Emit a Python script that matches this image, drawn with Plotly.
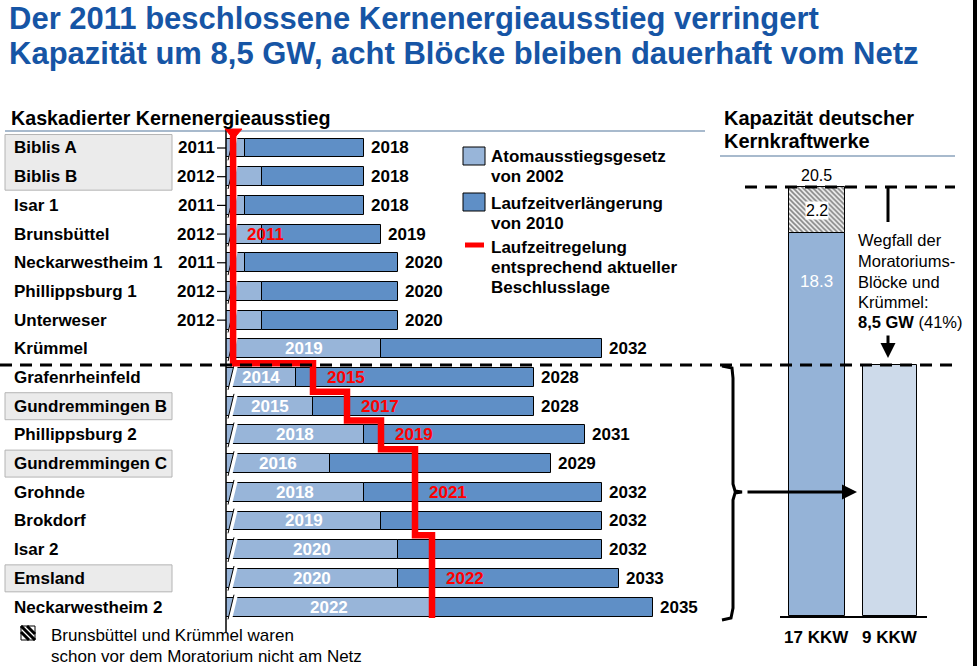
import plotly.graph_objects as go

# ---------------- data ----------------
plants = ["Biblis A", "Biblis B", "Isar 1", "Brunsbüttel", "Neckarwestheim 1",
          "Phillippsburg 1", "Unterweser", "Krümmel", "Grafenrheinfeld",
          "Gundremmingen B", "Phillippsburg 2", "Gundremmingen C", "Grohnde",
          "Brokdorf", "Isar 2", "Emsland", "Neckarwestheim 2"]
ausstieg_2002 = [2011, 2012, 2011, 2012, 2011, 2012, 2012, 2019, 2014, 2015,
                 2018, 2016, 2018, 2019, 2020, 2020, 2022]
verlaengerung_2010 = [2018, 2018, 2018, 2019, 2020, 2020, 2020, 2032, 2028, 2028,
                      2031, 2029, 2032, 2032, 2032, 2033, 2035]
# None = sofort (Moratorium 2011)
abschaltung = [None] * 8 + [2015, 2017, 2019, 2021, 2021, 2021, 2022, 2022, 2022]
red_labels = {3: "2011", 8: "2015", 9: "2017", 10: "2019", 12: "2021", 15: "2022"}
grey_rows = [(0, 1), (9, 9), (11, 11), (15, 15)]

kkw_labels = ["17 KKW", "9 KKW"]
capacity_remaining = [18.3, 12.0]
capacity_offline = 2.2
capacity_total = 20.5
wegfall_gw = "8,5"
wegfall_pct = "41%"

# ---------------- geometry / style ----------------
W, H = 978, 666
FONT = "Arial, Liberation Sans, sans-serif"
TITLE_C = "#1655a5"
LIGHT = "#98b5d9"
DARK = "#5f8fc6"
RIGHT_DARK = "#95b3d7"
RIGHT_LIGHT = "#cddaea"


def px(x):
    return x / W


def py(y):
    return 1 - y / H


PPY = 17.0
AXL, AXR = 226, 705
X0 = 2011 - (245 - AXL) / PPY
ROW0, ROWH = 148, 28.69
MOR_X = 2010.3


def gx(p):
    return X0 + (p - AXL) / PPY


def gy(p):
    return (p - ROW0) / ROWH


rows = list(range(len(plants)))
fig = go.Figure()

# gantt bars
fig.add_trace(go.Bar(orientation="h", y=rows, base=[X0] * len(rows),
                     x=[a - X0 for a in ausstieg_2002], width=0.66,
                     marker=dict(color=LIGHT, line=dict(color="black", width=1)),
                     xaxis="x", yaxis="y", hoverinfo="skip"))
fig.add_trace(go.Bar(orientation="h", y=rows, base=ausstieg_2002,
                     x=[v - a for v, a in zip(verlaengerung_2010, ausstieg_2002)],
                     width=0.66,
                     marker=dict(color=DARK, line=dict(color="black", width=1)),
                     xaxis="x", yaxis="y", hoverinfo="skip"))

# axis break marks
bx, by, lx, ly = [], [], [], []
for i in rows:
    yb = i + 0.33 + 0.1
    yt = i - 0.33 - 0.1
    bx += [gx(228), gx(234), gx(238), gx(232), gx(228), None]
    by += [yb, yt, yt, yb, yb, None]
    lx += [gx(228), gx(234), None]
    ly += [yb, yt, None]
fig.add_trace(go.Scatter(x=bx, y=by, fill="toself", fillcolor="white", mode="lines",
                         line=dict(width=0, color="white"), xaxis="x", yaxis="y",
                         hoverinfo="skip"))
fig.add_trace(go.Scatter(x=lx, y=ly, mode="lines", line=dict(width=1, color="black"),
                         xaxis="x", yaxis="y", hoverinfo="skip"))

# red step line
pos = [MOR_X if s is None else s for s in abschaltung]
sx, sy = [MOR_X], [gy(132)]
for i, xv in enumerate(pos):
    sx += [xv, xv]
    sy += [i - 0.5, i + 0.5]
sy[-1] = gy(618)
fig.add_trace(go.Scatter(x=sx, y=sy, mode="lines", line=dict(color="red", width=6.5),
                         xaxis="x", yaxis="y", hoverinfo="skip"))

# right capacity bars
fig.add_trace(go.Bar(x=[0, 1], y=capacity_remaining, base=[0, 0], width=[0.76, 0.74],
                     marker=dict(color=[RIGHT_DARK, RIGHT_LIGHT],
                                 line=dict(color="black", width=1)),
                     xaxis="x2", yaxis="y2", hoverinfo="skip"))
fig.add_trace(go.Bar(x=[0], y=[capacity_offline], base=[capacity_remaining[0]],
                     width=[0.76],
                     marker=dict(color="white", line=dict(color="black", width=1),
                                 pattern=dict(shape="\\", fgcolor="black", bgcolor="white",
                                              size=3.5, solidity=0.55)),
                     xaxis="x2", yaxis="y2", hoverinfo="skip"))

shapes = []
ann = []


def text(t, x, y, xref="paper", yref="paper", size=17, bold=False, color="black",
         xanchor="left", yanchor="middle", **kw):
    if bold:
        t = "<b>" + t + "</b>"
    d = dict(text=t, x=x, y=y, xref=xref, yref=yref, showarrow=False,
             font=dict(family=FONT, size=size, color=color),
             xanchor=xanchor, yanchor=yanchor)
    d.update(kw)
    ann.append(d)


def line(x0, y0, x1, y1, color="black", width=1, dash=None, xref="paper", yref="paper",
         layer="above"):
    ln = dict(color=color, width=width)
    if dash:
        ln["dash"] = dash
    shapes.append(dict(type="line", x0=x0, y0=y0, x1=x1, y1=y1, xref=xref, yref=yref,
                       line=ln, layer=layer))


# titles
text("Der 2011 beschlossene Kernenergieausstieg verringert", px(7), py(19), size=31,
     bold=True, color=TITLE_C)
text("Kapazität um 8,5 GW, acht Blöcke bleiben dauerhaft vom Netz", px(7), py(53),
     size=31, bold=True, color=TITLE_C)
text("Kaskadierter Kernenergieausstieg", px(9), py(118), size=19.7, bold=True)
line(px(5), py(131), px(705), py(131), color="#8ba3bd", width=1.5)
text("Kapazität deutscher", px(722), py(118), size=20, bold=True)
text("Kernkraftwerke", px(722), py(141), size=20, bold=True)
line(px(720), py(156), px(955), py(156), color="#8ba3bd", width=1.5)

# grey boxes
for r0, r1 in grey_rows:
    shapes.append(dict(type="rect", xref="paper", yref="y", x0=px(5), x1=px(172),
                       y0=r0 - 0.47, y1=r1 + 0.47, fillcolor="#ebebeb",
                       line=dict(color="#b4b4b4", width=1), layer="below"))

# plant labels and year labels
for i, name in enumerate(plants):
    text(name, px(12), i, yref="y", bold=True)
    text(str(verlaengerung_2010[i]), verlaengerung_2010[i], i, xref="x", yref="y",
         bold=True, xshift=5)
    if i < 7:
        text(str(ausstieg_2002[i]), px(217), i, yref="y", bold=True, xanchor="right")
        line(px(217), i, px(AXL), i, yref="y", width=1.2)
    else:
        text(str(ausstieg_2002[i]), (X0 + ausstieg_2002[i]) / 2, i, xref="x", yref="y",
             bold=True, color="white", xanchor="center")

for r, t in red_labels.items():
    text(t, pos[r] + 12 / PPY, r, xref="x", yref="y", bold=True, color="red")

# axis line + red triangle
line(px(AXL), py(130), px(AXL), py(632), width=1.5)
shapes.append(dict(type="path", xref="paper", yref="paper",
                   path=f"M {px(225)},{py(129)} L {px(242)},{py(129)} L {px(233.5)},{py(139)} Z",
                   fillcolor="red", line=dict(color="red", width=1)))

# legend
shapes.append(dict(type="rect", xref="paper", yref="paper", x0=px(463), x1=px(485),
                   y0=py(165), y1=py(147), fillcolor=LIGHT, line=dict(color="black", width=1)))
shapes.append(dict(type="rect", xref="paper", yref="paper", x0=px(463), x1=px(485),
                   y0=py(211), y1=py(193), fillcolor=DARK, line=dict(color="black", width=1)))
line(px(465), py(245), px(484), py(245), color="red", width=5)
for t, yy in [("Atomausstiegsgesetz", 157), ("von 2002", 177),
              ("Laufzeitverlängerung", 203), ("von 2010", 223),
              ("Laufzeitregelung", 247), ("entsprechend aktueller", 267),
              ("Beschlusslage", 287)]:
    text(t, px(489), py(yy), bold=True)

# footnote
shapes.append(dict(type="rect", xref="paper", yref="paper", x0=px(21), x1=px(35),
                   y0=py(640), y1=py(626), fillcolor="white",
                   line=dict(color="black", width=1)))
for (a, b, c, d) in [(21, 626, 35, 640), (21, 632, 29, 640), (27, 626, 35, 634)]:
    line(px(a), py(b), px(c), py(d), width=3)
text("Brunsbüttel und Krümmel waren", px(49), py(635))
text("schon vor dem Moratorium nicht am Netz", px(49), py(656))

# dashed reference lines
line(px(745), capacity_total, px(955), capacity_total, width=3, dash="12px,8px",
     yref="y2")
line(px(0), capacity_remaining[1], px(955), capacity_remaining[1], width=3,
     dash="12px,8px", yref="y2")

# right chart labels
text(f"{capacity_total}", 0, capacity_total, xref="x2", yref="y2", xanchor="center",
     yanchor="bottom", size=16, yshift=1)
text(f"{capacity_offline}", 0, capacity_remaining[0] + capacity_offline / 2, xref="x2",
     yref="y2", xanchor="center", size=16, bgcolor="white", borderpad=0)
text(f"{capacity_remaining[0]}", 0, capacity_remaining[0] - 2.3, xref="x2", yref="y2",
     xanchor="center", size=17, color="white")
for t, yy in [("Wegfall der", 240), ("Moratoriums-", 261), ("Blöcke und", 282),
              ("Krümmel:", 302)]:
    text(t, px(856), py(yy), size=16.5)
text(f"<b>{wegfall_gw} GW</b> ({wegfall_pct})", px(856), py(322), size=16.5)
text(kkw_labels[0], 0, py(637), xref="x2", bold=True, xanchor="center")
text(kkw_labels[1], 1, py(637), xref="x2", bold=True, xanchor="center")

# arrows
line(px(888), py(188), px(888), py(222), width=3)
ann.append(dict(x=px(888), y=py(358), xref="paper", yref="paper", ax=0, ay=-24,
                axref="pixel", ayref="pixel", showarrow=True, arrowhead=2,
                arrowsize=1, arrowwidth=3, arrowcolor="black", text=""))
ann.append(dict(x=px(857), y=py(492), xref="paper", yref="paper", ax=-111, ay=0,
                showarrow=True, arrowhead=2, arrowsize=1, arrowwidth=3,
                arrowcolor="black", text=""))

# bracket
bp = [(722, 366), (732, 368), (733, 378), (733, 484), (735, 491), (742, 492),
      (735, 493), (733, 500), (733, 608), (731, 618), (722, 620)]
path = "M " + " L ".join(f"{px(a)},{py(b)}" for a, b in bp)
shapes.append(dict(type="path", xref="paper", yref="paper", path=path,
                   line=dict(color="black", width=3)))

# right border
shapes.append(dict(type="rect", xref="paper", yref="paper", x0=px(973), x1=px(977),
                   y0=0, y1=1, fillcolor="black", line=dict(width=0)))

fig.update_layout(
    width=W, height=H, margin=dict(l=0, r=0, t=0, b=0),
    paper_bgcolor="white", plot_bgcolor="rgba(0,0,0,0)",
    showlegend=False, barmode="overlay", bargap=0,
    font=dict(family=FONT, size=17, color="black"),
    xaxis=dict(domain=[px(AXL), px(AXR)], range=[X0, gx(AXR)], visible=False,
               fixedrange=True),
    yaxis=dict(domain=[py(630), py(130)], range=[gy(630), gy(130)], visible=False,
               fixedrange=True),
    xaxis2=dict(domain=[px(780), px(927)], range=[-0.5, 1.5], anchor="y2",
                showline=True, linecolor="black", linewidth=1.5, showgrid=False,
                zeroline=False, showticklabels=False, ticks=""),
    yaxis2=dict(domain=[py(616), py(160)], range=[0, (616 - 160) / ((616 - 187) / capacity_total)],
                anchor="x2", visible=False),
    shapes=shapes, annotations=ann,
)

fig.write_html("out.html")
